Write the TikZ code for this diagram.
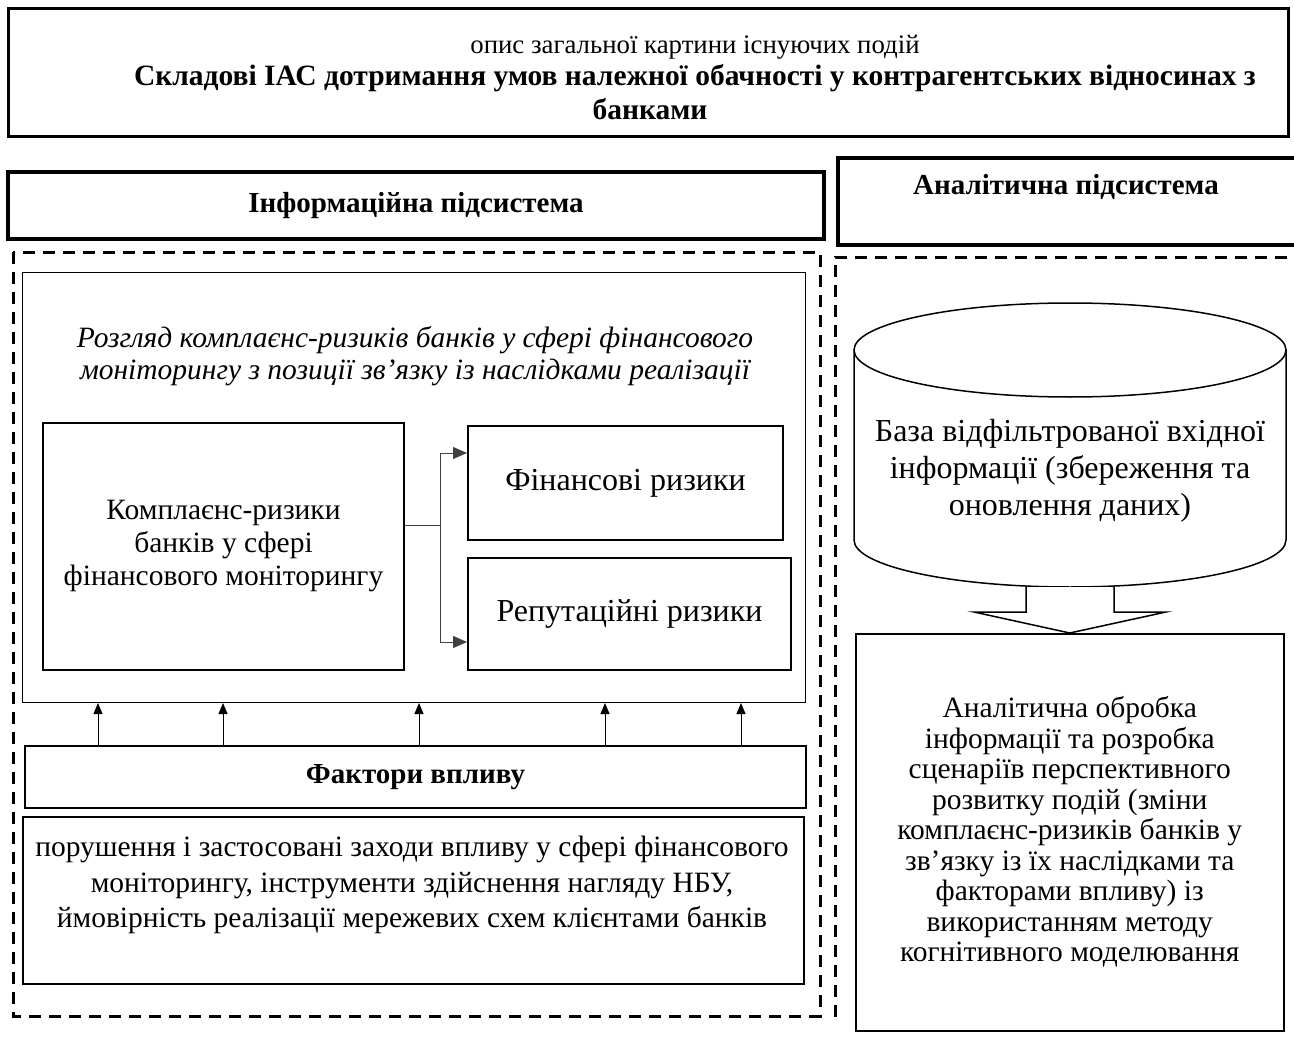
\documentclass[tikz,border=0pt]{standalone}
\usepackage{fontspec}
\setmainfont{Liberation Serif}
\usetikzlibrary{positioning,calc,arrows.meta}

\begin{document}
\begin{tikzpicture}[x=1pt,y=1pt,
  mybox/.style={draw,line width=2pt,align=center,inner sep=0pt,anchor=north west,font=\fontsize{29.5}{33}\selectfont},
  myhead/.style={draw,line width=4pt,inner sep=0pt,anchor=north west},
  mybold/.style={font=\fontsize{29}{32}\selectfont\bfseries},
  mytext/.style={align=center,inner sep=0pt,font=\fontsize{29.5}{33}\selectfont},
  mydash/.style={line width=3pt,dash pattern=on 12pt off 8pt},
  myarr/.style={-{Triangle[length=14pt,width=12pt]},line width=1pt,black!75},
  myup/.style={-{Triangle[length=11pt,width=9pt]},line width=1pt},
 ]

\useasboundingbox (0,0) rectangle (1294,-1046);

% top box
\node[draw,line width=3pt,minimum width=1280pt,minimum height=128pt,anchor=north west] (T) at (7,-7) {};
\node[font=\fontsize{26.8}{30}\selectfont] (T1) at (695,-47) {опис загальної картини існуючих подій};
\node[font=\fontsize{29.5}{32}\selectfont\bfseries] (T2) at (695,-78) {Складові ІАС дотримання умов належної обачності у контрагентських відносинах з};
\node[font=\fontsize{29.5}{32}\selectfont\bfseries] (T3) at (650,-109) {банками};

% headers
\node[myhead,mybold,minimum width=816pt,minimum height=67pt] (InfH) at (6,-170) {Інформаційна підсистема};
\node[myhead,minimum width=470pt,minimum height=87pt] (AnH) at (836,-156) {};
\node[mybold] (AnT) at (1066,-187) {Аналітична підсистема};

% dashed areas
\draw[mydash] (13,-252) rectangle (820,-1016);
\draw[mydash] (835,-1017) -- (835,-257) -- (1300,-257);

% informational part
\node[draw,line width=1pt,minimum width=783pt,minimum height=430pt,anchor=north west] (Cons) at (22,-272) {};
\node[mytext,font=\fontsize{29.5}{32}\selectfont\itshape] (ConsT) at (415,-356) {Розгляд комплаєнс-ризиків банків у сфері фінансового\\моніторингу з позиції зв’язку із наслідками реалізації};

\node[mybox,minimum width=361pt,minimum height=247pt] (Kompl) at (42,-422) {Комплаєнс-ризики\\банків у сфері\\фінансового моніторингу};
\node[mybox,font=\fontsize{32}{36}\selectfont,minimum width=315pt,minimum height=114pt] (Fin) at (467,-425) {Фінансові ризики};
\node[mybox,font=\fontsize{32}{36}\selectfont,minimum width=323pt,minimum height=112pt] (Rep) at (467,-557) {Репутаційні ризики};

\draw[myarr] ($(Kompl.north east)+(0,-103)$) -- ++(35,0) |- ($(Fin.north west)+(0,-28)$);
\draw[myarr] ($(Kompl.north east)+(0,-103)$) -- ++(35,0) |- ($(Rep.south west)+(0,29)$);

\node[mybox,mybold,minimum width=781pt,minimum height=62pt] (Fakt) at (24,-745) {Фактори впливу};
\foreach \x in {98,223,419,605,741}
  \draw[myup] (Fakt.north -| \x,0) -- (Cons.south -| \x,0);

\node[mybox,minimum width=781pt,minimum height=167pt] (Por) at (22,-816) {};
\node[mytext,font=\fontsize{29.5}{35.5}\selectfont] (PorT) at (412,-885) {порушення і застосовані заходи впливу у сфері фінансового\\моніторингу, інструменти здійснення нагляду НБУ,\\ймовірність реалізації мережевих схем клієнтами банків};

% analytical part
\draw[line width=1.5pt] (1070,-350) ellipse [x radius=216, y radius=47];
\draw[line width=1.5pt] (854,-350) -- (854,-540) arc[start angle=180,end angle=360,x radius=216,y radius=47] -- (1286,-350);
\coordinate (DBb) at (1070,-587);
\node[mytext,font=\fontsize{32}{37}\selectfont] (DB) at (1070,-471) {База відфільтрованої вхідної\\інформації (збереження та\\оновлення даних)};

\node[mybox,line width=1.5pt,font=\fontsize{29.5}{30.5}\selectfont,minimum width=428pt,minimum height=397pt] (Obr) at (855,-633) {Аналітична обробка\\інформації та розробка\\сценаріїв перспективного\\розвитку подій (зміни\\комплаєнс-ризиків банків у\\зв’язку із їх наслідками та\\факторами впливу) із\\використанням методу\\когнітивного моделювання};

\draw[line width=1.5pt,fill=white] ($(DBb)+(-44,0)$) -- ++(0,-25) -- ++(-52,0) -- (Obr.north) -- ($(DBb)+(96,-25)$) -- ++(-52,0) -- ++(0,25);

\end{tikzpicture}
\end{document}
